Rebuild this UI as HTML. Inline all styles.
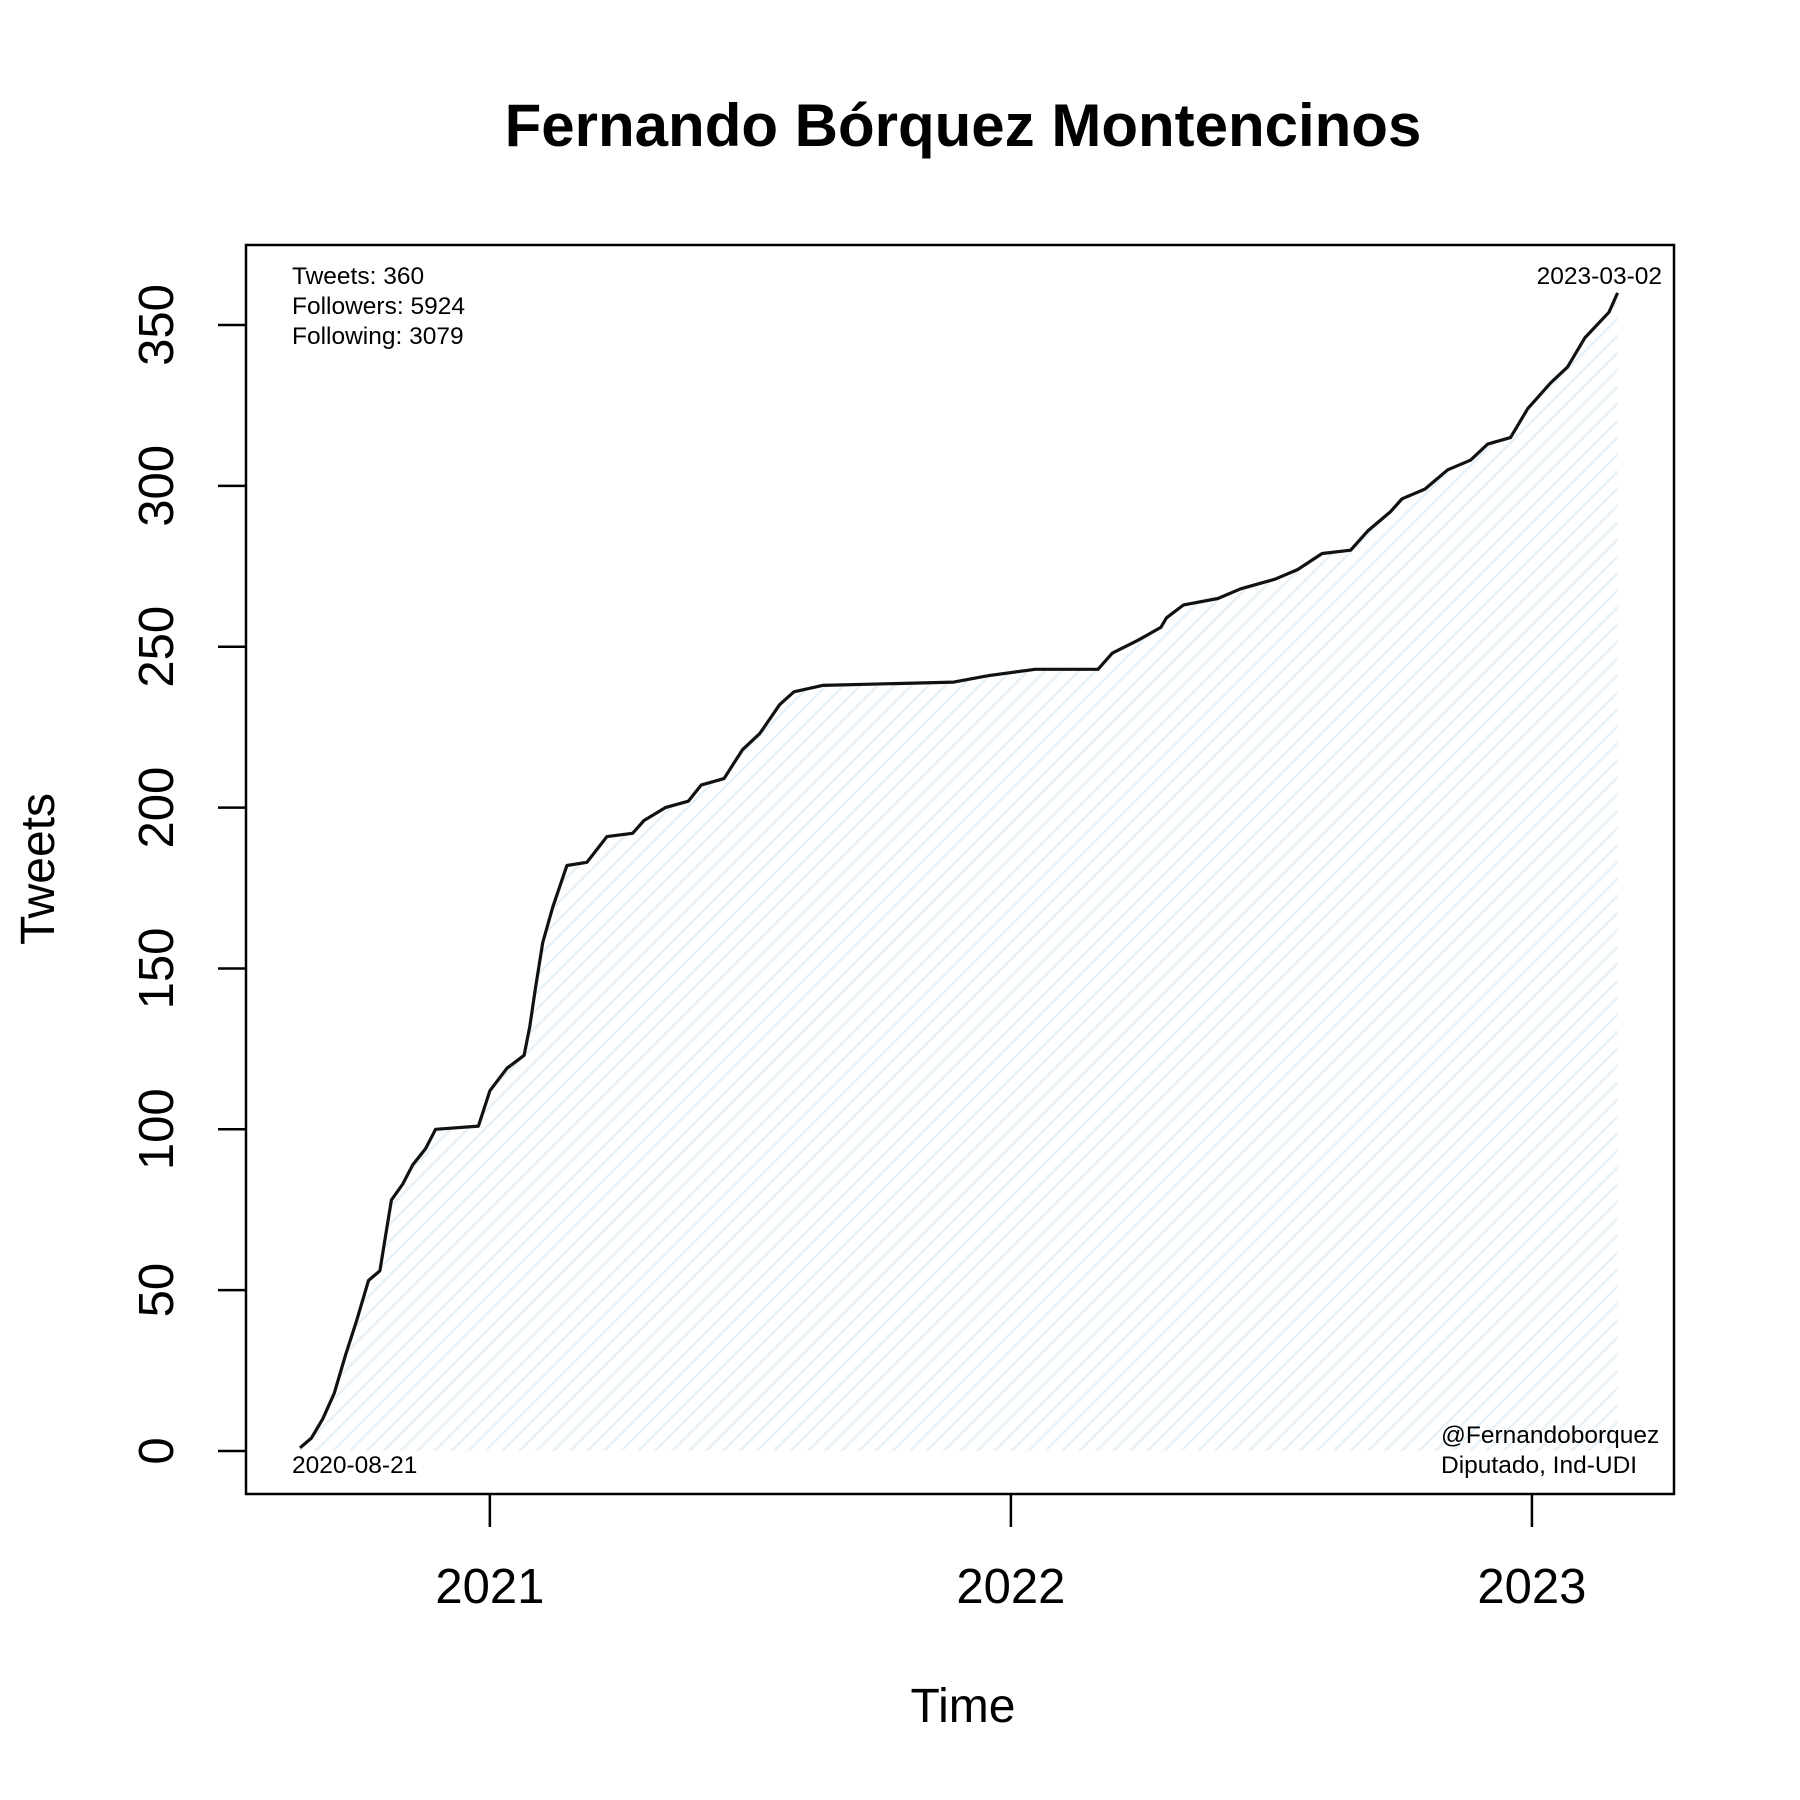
<!DOCTYPE html>
<html><head><meta charset="utf-8"><style>
html,body{margin:0;padding:0;background:#fff}
svg{display:block;font-family:"Liberation Sans",Arial,sans-serif}
</style></head><body>
<svg id="chart" width="1800" height="1800" viewBox="0 0 1800 1800" xmlns="http://www.w3.org/2000/svg">
<defs>
<pattern id="hatch" patternUnits="userSpaceOnUse" width="12" height="12" patternTransform="rotate(45)">
<rect width="12" height="12" fill="#ffffff"/>
<line x1="0" y1="0" x2="0" y2="12" stroke="#e6f2f8" stroke-width="5"/>
</pattern>
</defs>
<text x="963" y="146" text-anchor="middle" font-size="60" font-weight="bold">Fernando Bórquez Montencinos</text>
<g id="plot"></g>
<rect x="246" y="245" width="1428" height="1249" fill="none" stroke="#000" stroke-width="2.5"/>
<text x="963" y="1722" text-anchor="middle" font-size="48">Time</text>
<text transform="translate(54,869) rotate(-90)" text-anchor="middle" font-size="48">Tweets</text>
<text x="292" y="284" font-size="24.5">Tweets: 360</text>
<text x="292" y="314" font-size="24.5">Followers: 5924</text>
<text x="292" y="344" font-size="24.5">Following: 3079</text>
<text x="1662" y="284" text-anchor="end" font-size="24.5">2023-03-02</text>
<text x="292" y="1473" font-size="24.5">2020-08-21</text>
<text x="1441" y="1443" font-size="24.5">@Fernandoborquez</text>
<text x="1441" y="1473" font-size="24.5">Diputado, Ind-UDI</text>
</svg>
<script>
// days since 2020-08-21 and cumulative tweet counts
const days = [0,8,16,24,32,40,48,56,60,64,72,79,88,95,125,133,145,157,161,165,170,177,187,201,215,233,241,256,272,281,297,310,322,336,346,366,458,482,515,559,569,587,603,607,619,643,659,683,699,716,736,748,764,772,788,804,820,832,848,860,876,888,900,917,923];
const counts = [1,4,10,18,30,41,53,56,67,78,83,89,94,100,101,112,119,123,132,144,158,169,182,183,191,192,196,200,202,207,209,218,223,232,236,238,239,241,243,243,248,252,256,259,263,265,268,271,274,279,280,286,292,296,299,305,308,313,315,324,332,337,346,354,360];
const yTicks = [0,50,100,150,200,250,300,350];
const xTickLabels = ["2021","2022","2023"];
const xTickDays = [133,498,863];

const NS="http://www.w3.org/2000/svg";
const X = d => 300 + d*1.4275;
const Y = v => 1451 - v*3.217;
const g = document.getElementById('plot');
function mk(tag, attrs){const e=document.createElementNS(NS,tag);for(const k in attrs)e.setAttribute(k,attrs[k]);g.appendChild(e);return e;}

let pts = days.map((d,i)=>X(d).toFixed(1)+','+Y(counts[i]).toFixed(1));
const area = mk('polygon',{points: X(days[0]).toFixed(1)+','+Y(0)+' '+pts.join(' ')+' '+X(days[days.length-1]).toFixed(1)+','+Y(0), fill:'url(#hatch)'});


const line = mk('polyline',{points: pts.join(' '), fill:'none', stroke:'#111', 'stroke-width':3.2, 'stroke-linejoin':'round'});



yTicks.forEach(v=>{
  const t = mk('line',{x1:218,x2:246,y1:Y(v),y2:Y(v),stroke:'#000','stroke-width':2.5});
  
  
  const l = mk('text',{transform:`translate(173,${Y(v)}) rotate(-90)`,'text-anchor':'middle','font-size':49});
  l.textContent = v;
  
  
});
xTickDays.forEach((d,i)=>{
  const t = mk('line',{x1:X(d),x2:X(d),y1:1494,y2:1527,stroke:'#000','stroke-width':2.5});
  
  
  const l = mk('text',{x:X(d),y:1603,'text-anchor':'middle','font-size':49});
  l.textContent = xTickLabels[i];
  
  
});
</script>
</body></html>
